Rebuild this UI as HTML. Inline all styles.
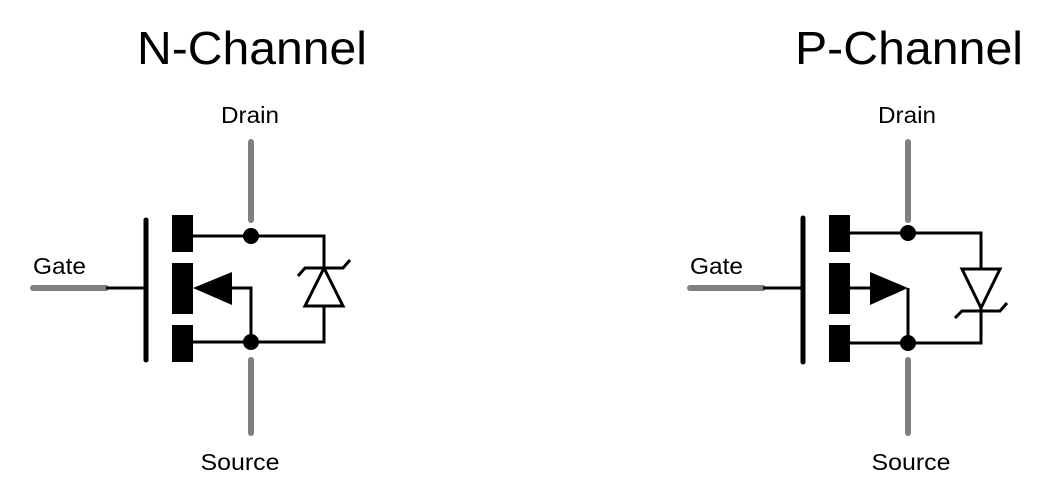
<!DOCTYPE html>
<html><head><meta charset="utf-8"><style>
html,body{margin:0;padding:0;background:#fff;}
svg{display:block;}
text{font-family:"Liberation Sans",sans-serif;fill:#000;}
</style></head><body>
<svg width="1050" height="498" viewBox="0 0 1050 498">
<g>
  <text x="252" y="64" font-size="46" text-anchor="middle" textLength="230" lengthAdjust="spacingAndGlyphs">N-Channel</text>
  <text x="250" y="123" font-size="23" text-anchor="middle" textLength="58" lengthAdjust="spacingAndGlyphs">Drain</text>
  <text x="33" y="274" font-size="23" textLength="53" lengthAdjust="spacingAndGlyphs">Gate</text>
  <text x="240" y="470" font-size="23" text-anchor="middle" textLength="79" lengthAdjust="spacingAndGlyphs">Source</text>
  <g stroke-linecap="round" fill="none">
    <line x1="33" y1="288" x2="106" y2="288" stroke="#808080" stroke-width="6"/>
    <line x1="251" y1="142" x2="251" y2="220" stroke="#808080" stroke-width="6"/>
    <line x1="251" y1="360" x2="251" y2="433" stroke="#808080" stroke-width="6"/>
  </g>
  <g stroke="#000" stroke-width="3" fill="none">
    <line x1="106" y1="288" x2="146" y2="288"/>
    <line x1="146" y1="220" x2="146" y2="360" stroke-width="5" stroke-linecap="round"/>
    <polyline points="193,236 324,236 324,342 193,342"/>
    <polyline points="231,288 251,288 251,342"/>
    <line x1="324" y1="236" x2="324" y2="342"/>
    <polygon points="324,268 343,306 305,306" fill="#fff"/>
    <polyline points="298,276 305,268 343,268 350,260"/>
  </g>
  <rect x="172" y="215" width="21" height="37" fill="#000"/>
  <rect x="172" y="263" width="21" height="51" fill="#000"/>
  <rect x="172" y="325" width="21" height="37" fill="#000"/>
  <polygon points="193,288 232,272 232,305" fill="#000"/>
  <circle cx="251" cy="236" r="8" fill="#000"/>
  <circle cx="251" cy="342" r="8" fill="#000"/>
</g>
<g>
  <text x="909" y="64" font-size="46" text-anchor="middle" textLength="228" lengthAdjust="spacingAndGlyphs">P-Channel</text>
  <text x="907" y="123" font-size="23" text-anchor="middle" textLength="58" lengthAdjust="spacingAndGlyphs">Drain</text>
  <text x="690" y="274" font-size="23" textLength="53" lengthAdjust="spacingAndGlyphs">Gate</text>
  <text x="911" y="470" font-size="23" text-anchor="middle" textLength="79" lengthAdjust="spacingAndGlyphs">Source</text>
  <g stroke-linecap="round" fill="none">
    <line x1="690" y1="288" x2="763" y2="288" stroke="#808080" stroke-width="6"/>
    <line x1="908" y1="142" x2="908" y2="220" stroke="#808080" stroke-width="6"/>
    <line x1="908" y1="360" x2="908" y2="433" stroke="#808080" stroke-width="6"/>
  </g>
  <g stroke="#000" stroke-width="3" fill="none">
    <line x1="763" y1="288" x2="803" y2="288"/>
    <line x1="803" y1="218" x2="803" y2="362" stroke-width="5" stroke-linecap="round"/>
    <polyline points="850,233 981,233 981,343 850,343"/>
    <polyline points="850,288 872,288"/>
    <line x1="908" y1="288" x2="908" y2="343"/>
    <polygon points="962,269 1000,269 981,308" fill="#fff"/>
    <polyline points="955,318 962,311 1000,311 1007,303"/>
  </g>
  <rect x="829" y="215" width="21" height="37" fill="#000"/>
  <rect x="829" y="263" width="21" height="51" fill="#000"/>
  <rect x="829" y="325" width="21" height="37" fill="#000"/>
  <polygon points="870,272 908,288 870,305" fill="#000"/>
  <circle cx="908" cy="233" r="8" fill="#000"/>
  <circle cx="908" cy="343" r="8" fill="#000"/>
</g>
</svg>
</body></html>
